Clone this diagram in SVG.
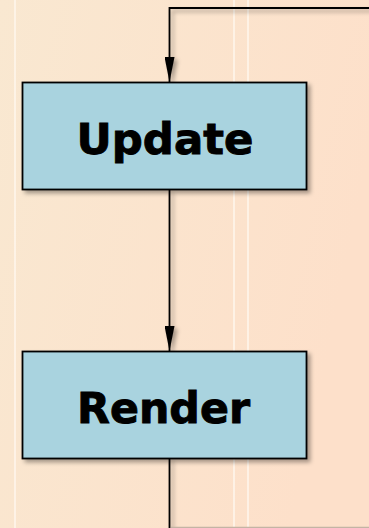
<svg xmlns="http://www.w3.org/2000/svg" width="369" height="528" viewBox="0 0 369 528">
  <defs>
    <linearGradient id="bg" x1="0" y1="0" x2="1" y2="0.3">
      <stop offset="0" stop-color="#f9e8d1"/>
      <stop offset="1" stop-color="#fde0ca"/>
    </linearGradient>
    <filter id="shadow" x="-20%" y="-20%" width="140%" height="140%">
      <feDropShadow dx="3" dy="3" stdDeviation="2" flood-color="#000" flood-opacity="0.35"/>
    </filter>
    <marker id="head" viewBox="0 0 25 10" refX="25" refY="5" markerWidth="25" markerHeight="10" markerUnits="userSpaceOnUse" orient="auto">
      <path d="M0,0 L25,5 L0,10 Z" fill="#000"/>
    </marker>
  </defs>
  <style>
    .box { fill: #a9d3df; stroke: #000; stroke-width: 1.8; }
    .label { font-family: "DejaVu Sans", "Liberation Sans", sans-serif; font-weight: bold; font-size: 43px; fill: #000; stroke: #000; stroke-width: 0.9; text-anchor: middle; }
    .wire { fill: none; stroke: #000; stroke-width: 1.8; }
    .stripe { stroke: #fff6ec; stroke-width: 2; opacity: 0.8; }
  </style>

  <!-- background with faint vertical stripes -->
  <rect x="0" y="0" width="369" height="528" fill="url(#bg)"/>
  <line class="stripe" x1="15" y1="0" x2="15" y2="528"/>
  <line class="stripe" x1="234" y1="0" x2="234" y2="528"/>
  <line class="stripe" x1="248" y1="0" x2="248" y2="528"/>

  <!-- connectors -->
  <g id="connectors">
    <g filter="url(#shadow)">
      <path class="wire" d="M369,8 H169.5 V82" marker-end="url(#head)"/>
      <path class="wire" d="M169.5,190 V351" marker-end="url(#head)"/>
      <path class="wire" d="M169.5,458 V528"/>
    </g>
    <path d="M171,527.5 H369" fill="none" stroke="#c4b4a4" stroke-width="1.5"/>
  </g>

  <!-- nodes -->
  <g id="update">
    <rect class="box" x="22.5" y="82.5" width="284" height="107" filter="url(#shadow)"/>
    <text class="label" x="165" y="154" textLength="177" lengthAdjust="spacingAndGlyphs">Update</text>
  </g>
  <g id="render">
    <rect class="box" x="22.5" y="351.5" width="284" height="107" filter="url(#shadow)"/>
    <text class="label" x="163.5" y="423" textLength="173" lengthAdjust="spacingAndGlyphs">Render</text>
  </g>
</svg>
